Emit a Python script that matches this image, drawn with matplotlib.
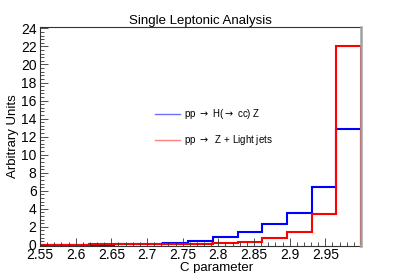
import numpy as np
import matplotlib
matplotlib.use("Agg")
import matplotlib.pyplot as plt
from matplotlib.ticker import MultipleLocator

plt.rcParams['font.family'] = ['Liberation Sans', 'DejaVu Sans']

# 13 bins between 2.55 and 3.0
edges = np.linspace(2.55, 3.0, 14)
hcc_z = [0.02, 0.03, 0.04, 0.06, 0.12, 0.26, 0.48, 0.92, 1.4, 2.33, 3.55, 6.4, 12.8]
z_light = [0.03, 0.04, 0.05, 0.06, 0.08, 0.1, 0.15, 0.25, 0.37, 0.75, 1.4, 3.4, 22.0]
labels = ['pp $\\rightarrow$ H($\\rightarrow$ cc) Z', 'pp $\\rightarrow$  Z + Light jets']
xticks = [2.55, 2.6, 2.65, 2.7, 2.75, 2.8, 2.85, 2.9, 2.95]

fig = plt.figure(figsize=(4.01, 2.73), dpi=100)
ax = fig.add_axes([0.0998, 0.099, 0.8005, 0.802])

ax.stairs(hcc_z, edges, color='#0000ff', lw=1.5)
ax.stairs(z_light, edges, color='#ff0000', lw=1.5)

ax.set_xlim(2.55, 3.0)
ax.set_ylim(-0.12, 24.15)
ax.set_xticks(xticks)
ax.set_xticklabels([f'{v:g}' for v in xticks])
ax.xaxis.set_minor_locator(MultipleLocator(0.01))
ax.yaxis.set_major_locator(MultipleLocator(2))
ax.yaxis.set_minor_locator(MultipleLocator(0.4))
ax.tick_params(which='both', direction='in', labelsize=10, pad=1.5,
               top=False, right=False, width=0.6, color='#333333')
ax.tick_params(which='major', length=6)
ax.tick_params(which='minor', length=3)
ax.tick_params(axis='y', pad=2.5)

for s in ['left', 'bottom', 'top']:
    ax.spines[s].set_linewidth(0.8)
    ax.spines[s].set_color('#333333')
ax.spines['right'].set_linewidth(1.8)
ax.spines['right'].set_color('#a0a0a0')
ax.spines['right'].set_zorder(5)

ax.set_title('Single Leptonic Analysis', fontsize=9.5, pad=2)
ax.set_ylabel('Arbitrary Units', fontsize=9.5, labelpad=1)
ax.set_xlabel('C parameter', fontsize=9.5, labelpad=1)
ax.xaxis.set_label_coords(0.55, -0.072)

leg = ax.legend(labels, loc='upper left', bbox_to_anchor=(0.33, 0.675),
                frameon=False, fontsize=7, handlelength=2.6, labelspacing=1.25,
                handletextpad=0.4)
for h, c in zip(leg.get_lines(), ['#7070ff', '#ff8080']):
    h.set_color(c)
    h.set_linewidth(1.0)

fig.savefig('out.png', dpi=100)
